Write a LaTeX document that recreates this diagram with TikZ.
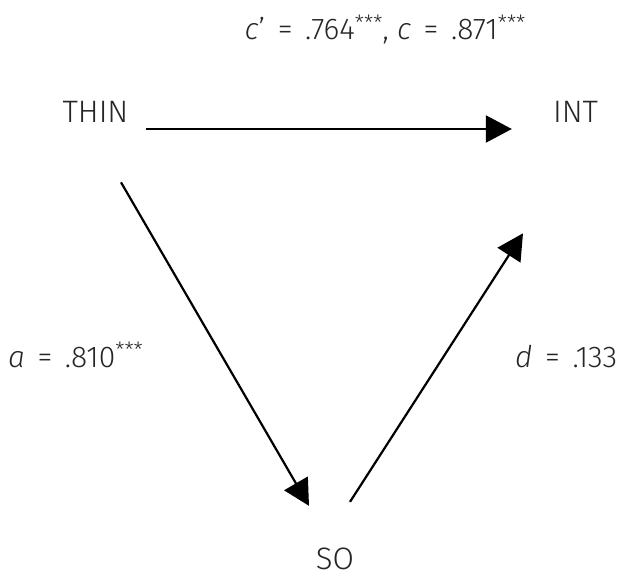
\documentclass[tikz,border=0pt]{standalone}
\usepackage{fontspec}
\setmainfont{Fira Sans}[UprightFont=* Light, ItalicFont=* Light Italic]
\usetikzlibrary{arrows.meta,calc}
\newcommand{\stars}{\raisebox{0.6ex}{\fontsize{21}{21}\selectfont ***}}
\newcommand{\eqs}{\hspace{0.42em}=\hspace{0.42em}}
\begin{document}
\begin{tikzpicture}[x=1pt,y=-1pt,
  var/.style={inner sep=0pt,font=\fontsize{31}{36}\selectfont,text=black!85},
  elab/.style={inner sep=0pt,font=\fontsize{30}{34}\selectfont,text=black!85},
  arr/.style={line width=2.2pt,-{Triangle[length=26pt,width=27pt]}}]
\useasboundingbox[fill=white] (0,0) rectangle (623,578);
\node[var] (thin) at (95.5,111.5) {THIN};
\node[var] (int) at (575.5,111.5) {INT};
\node[var] (so) at (335,559) {SO};
\draw[arr] ($(thin.east)+(17,17.5)$) -- ($(int.west)+(-41,17.5)$);
\draw[arr] ($(thin.south)+(25.5,60)$) -- ($(so.north)+(-26,-42)$);
\draw[arr] ($(so.north)+(15,-46)$) -- ($(int.south)+(-52.5,111)$);
\node[elab,anchor=base] (cc) at (385,40) {\textit{c}’\eqs.764\stars, \textit{c}\eqs.871\stars};
\node[elab,anchor=base west] (a) at (8,367) {\textit{a}\eqs.810\stars};
\node[elab,anchor=base west] (d) at (515,367) {\textit{d}\eqs.133};
\end{tikzpicture}
\end{document}
